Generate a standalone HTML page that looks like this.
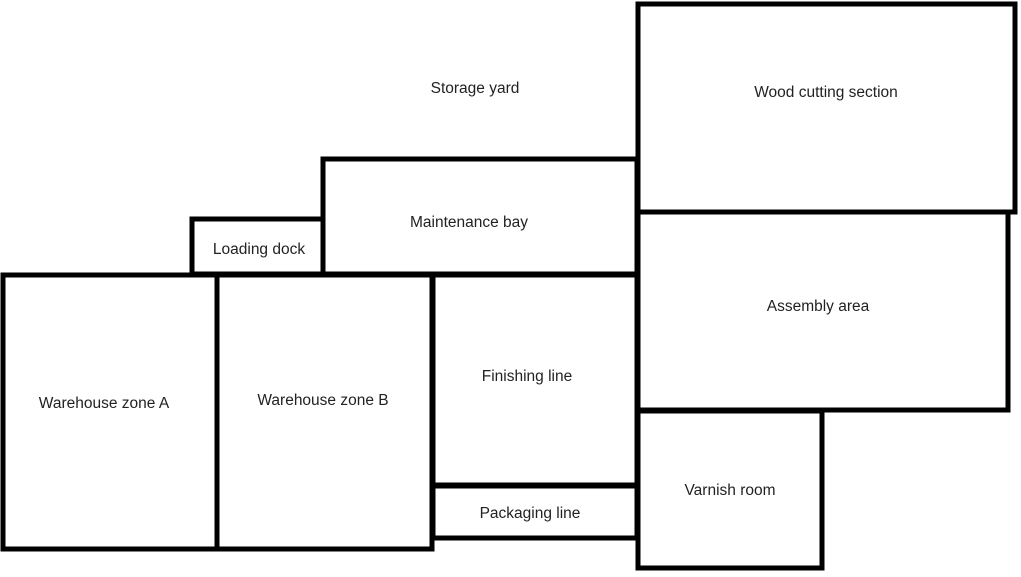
<!DOCTYPE html>
<html><head><style>
body{margin:0;background:#fff;}
svg text{font-family:"Liberation Sans",sans-serif;font-size:15.5px;fill:#222;text-anchor:middle;}
</style></head><body>
<svg width="1021" height="572" xmlns="http://www.w3.org/2000/svg">
<g fill="none" stroke="#000" stroke-width="5">
<rect x="638" y="4" width="377" height="208"/>
<polyline points="638,212 638,410 1008,410 1008,212"/>
<rect x="638" y="411" width="184" height="157"/>
<rect x="433" y="275" width="204" height="210"/>
<rect x="433" y="486" width="204" height="52"/>
<rect x="3" y="275" width="214" height="274"/>
<rect x="217" y="275" width="215" height="274"/>
<rect x="192" y="219" width="131" height="55"/>
<rect x="323" y="159" width="314" height="115"/>
</g>
<text x="475" y="93">Storage yard</text>
<text x="826" y="97">Wood cutting section</text>
<text x="469" y="227">Maintenance bay</text>
<text x="259" y="254">Loading dock</text>
<text x="818" y="311">Assembly area</text>
<text x="527" y="381">Finishing line</text>
<text x="104" y="408">Warehouse zone A</text>
<text x="323" y="405">Warehouse zone B</text>
<text x="730" y="495">Varnish room</text>
<text x="530" y="518">Packaging line</text>
</svg>
</body></html>
